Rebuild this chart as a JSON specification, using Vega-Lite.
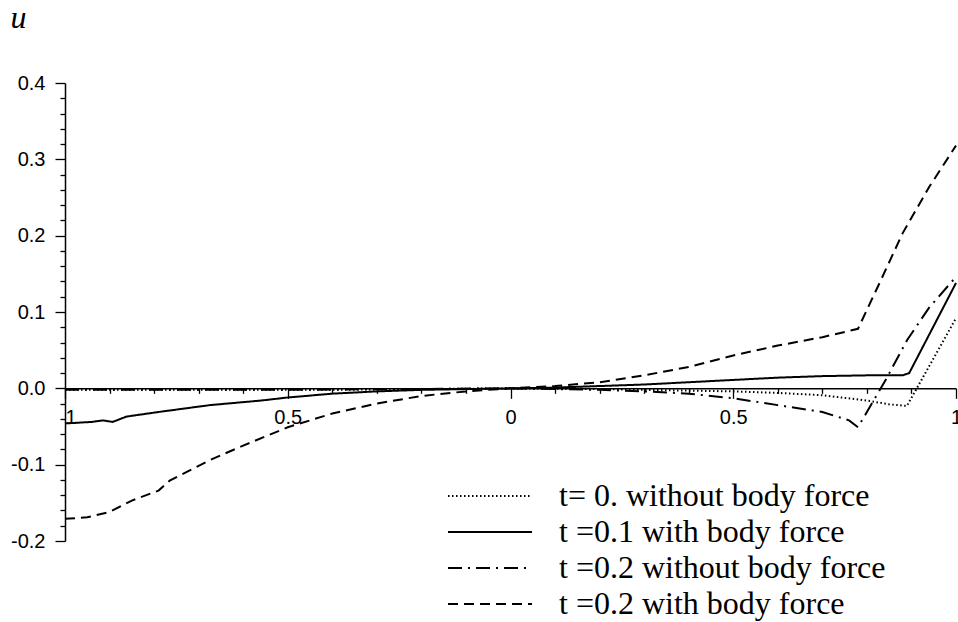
{
  "$schema": "https://vega.github.io/schema/vega-lite/v6.json",
  "width": 891,
  "height": 458,
  "autosize": {"type": "none"},
  "padding": {"left": 65, "top": 83, "right": 2, "bottom": 81},
  "background": "white",
  "config": {
    "view": {"stroke": null},
    "axis": {"grid": false, "domainColor": "black", "tickColor": "black", "labelColor": "black", "labelFont": "Liberation Sans", "labelFontSize": 20, "domainWidth": 1.5, "tickWidth": 1.3}
  },
  "data": {
    "values": [
      {"x": -1, "u": -0.002, "s": "t= 0. without body force"},
      {"x": -0.8, "u": -0.002, "s": "t= 0. without body force"},
      {"x": -0.6, "u": -0.002, "s": "t= 0. without body force"},
      {"x": -0.4, "u": -0.002, "s": "t= 0. without body force"},
      {"x": -0.2, "u": -0.001, "s": "t= 0. without body force"},
      {"x": 0, "u": 0, "s": "t= 0. without body force"},
      {"x": 0.2, "u": -0.001, "s": "t= 0. without body force"},
      {"x": 0.4, "u": -0.003, "s": "t= 0. without body force"},
      {"x": 0.5, "u": -0.004, "s": "t= 0. without body force"},
      {"x": 0.6, "u": -0.006, "s": "t= 0. without body force"},
      {"x": 0.7, "u": -0.009, "s": "t= 0. without body force"},
      {"x": 0.8, "u": -0.016, "s": "t= 0. without body force"},
      {"x": 0.85, "u": -0.021, "s": "t= 0. without body force"},
      {"x": 0.89, "u": -0.023, "s": "t= 0. without body force"},
      {"x": 1, "u": 0.092, "s": "t= 0. without body force"},

      {"x": -1, "u": -0.046, "s": "t =0.1 with body force"},
      {"x": -0.94, "u": -0.044, "s": "t =0.1 with body force"},
      {"x": -0.915, "u": -0.042, "s": "t =0.1 with body force"},
      {"x": -0.893, "u": -0.044, "s": "t =0.1 with body force"},
      {"x": -0.862, "u": -0.037, "s": "t =0.1 with body force"},
      {"x": -0.79, "u": -0.031, "s": "t =0.1 with body force"},
      {"x": -0.675, "u": -0.022, "s": "t =0.1 with body force"},
      {"x": -0.56, "u": -0.016, "s": "t =0.1 with body force"},
      {"x": -0.5, "u": -0.012, "s": "t =0.1 with body force"},
      {"x": -0.4, "u": -0.007, "s": "t =0.1 with body force"},
      {"x": -0.3, "u": -0.004, "s": "t =0.1 with body force"},
      {"x": -0.2, "u": -0.002, "s": "t =0.1 with body force"},
      {"x": -0.1, "u": -0.001, "s": "t =0.1 with body force"},
      {"x": 0, "u": 0, "s": "t =0.1 with body force"},
      {"x": 0.1, "u": 0.001, "s": "t =0.1 with body force"},
      {"x": 0.2, "u": 0.003, "s": "t =0.1 with body force"},
      {"x": 0.3, "u": 0.005, "s": "t =0.1 with body force"},
      {"x": 0.4, "u": 0.008, "s": "t =0.1 with body force"},
      {"x": 0.5, "u": 0.011, "s": "t =0.1 with body force"},
      {"x": 0.6, "u": 0.014, "s": "t =0.1 with body force"},
      {"x": 0.7, "u": 0.016, "s": "t =0.1 with body force"},
      {"x": 0.8, "u": 0.017, "s": "t =0.1 with body force"},
      {"x": 0.88, "u": 0.017, "s": "t =0.1 with body force"},
      {"x": 0.895, "u": 0.02, "s": "t =0.1 with body force"},
      {"x": 1, "u": 0.138, "s": "t =0.1 with body force"},

      {"x": -1, "u": -0.002, "s": "t =0.2 without body force"},
      {"x": -0.5, "u": -0.002, "s": "t =0.2 without body force"},
      {"x": 0, "u": 0, "s": "t =0.2 without body force"},
      {"x": 0.1, "u": -0.001, "s": "t =0.2 without body force"},
      {"x": 0.2, "u": -0.002, "s": "t =0.2 without body force"},
      {"x": 0.3, "u": -0.004, "s": "t =0.2 without body force"},
      {"x": 0.4, "u": -0.007, "s": "t =0.2 without body force"},
      {"x": 0.5, "u": -0.013, "s": "t =0.2 without body force"},
      {"x": 0.6, "u": -0.022, "s": "t =0.2 without body force"},
      {"x": 0.7, "u": -0.031, "s": "t =0.2 without body force"},
      {"x": 0.76, "u": -0.042, "s": "t =0.2 without body force"},
      {"x": 0.78, "u": -0.051, "s": "t =0.2 without body force"},
      {"x": 0.845, "u": 0.014, "s": "t =0.2 without body force"},
      {"x": 0.89, "u": 0.063, "s": "t =0.2 without body force"},
      {"x": 0.94, "u": 0.106, "s": "t =0.2 without body force"},
      {"x": 1, "u": 0.146, "s": "t =0.2 without body force"},

      {"x": -1, "u": -0.171, "s": "t =0.2 with body force"},
      {"x": -0.95, "u": -0.169, "s": "t =0.2 with body force"},
      {"x": -0.9, "u": -0.162, "s": "t =0.2 with body force"},
      {"x": -0.85, "u": -0.147, "s": "t =0.2 with body force"},
      {"x": -0.79, "u": -0.134, "s": "t =0.2 with body force"},
      {"x": -0.765, "u": -0.121, "s": "t =0.2 with body force"},
      {"x": -0.675, "u": -0.094, "s": "t =0.2 with body force"},
      {"x": -0.6, "u": -0.075, "s": "t =0.2 with body force"},
      {"x": -0.5, "u": -0.051, "s": "t =0.2 with body force"},
      {"x": -0.4, "u": -0.033, "s": "t =0.2 with body force"},
      {"x": -0.3, "u": -0.02, "s": "t =0.2 with body force"},
      {"x": -0.2, "u": -0.01, "s": "t =0.2 with body force"},
      {"x": -0.1, "u": -0.004, "s": "t =0.2 with body force"},
      {"x": 0, "u": 0, "s": "t =0.2 with body force"},
      {"x": 0.1, "u": 0.003, "s": "t =0.2 with body force"},
      {"x": 0.2, "u": 0.008, "s": "t =0.2 with body force"},
      {"x": 0.3, "u": 0.017, "s": "t =0.2 with body force"},
      {"x": 0.4, "u": 0.028, "s": "t =0.2 with body force"},
      {"x": 0.5, "u": 0.043, "s": "t =0.2 with body force"},
      {"x": 0.6, "u": 0.056, "s": "t =0.2 with body force"},
      {"x": 0.7, "u": 0.067, "s": "t =0.2 with body force"},
      {"x": 0.78, "u": 0.078, "s": "t =0.2 with body force"},
      {"x": 0.83, "u": 0.14, "s": "t =0.2 with body force"},
      {"x": 0.88, "u": 0.203, "s": "t =0.2 with body force"},
      {"x": 0.94, "u": 0.264, "s": "t =0.2 with body force"},
      {"x": 1, "u": 0.318, "s": "t =0.2 with body force"}
    ]
  },
  "layer": [
    {
      "mark": {"type": "point", "opacity": 0},
      "encoding": {
        "x": {"field": "x", "type": "quantitative", "scale": {"domain": [-1, 1], "nice": false, "zero": false},
          "axis": {"orient": "bottom", "offset": -152.67, "values": [-0.9, -0.8, -0.7, -0.6, -0.4, -0.3, -0.2, -0.1, 0.1, 0.2, 0.3, 0.4, 0.6, 0.7, 0.8, 0.9], "tickSize": 5, "labels": false, "domain": false, "title": null}},
        "y": {"field": "u", "type": "quantitative", "scale": {"domain": [-0.2, 0.4], "nice": false, "zero": false},
          "axis": {"orient": "left", "values": [-0.18, -0.16, -0.14, -0.12, -0.08, -0.06, -0.04, -0.02, 0.02, 0.04, 0.06, 0.08, 0.12, 0.14, 0.16, 0.18, 0.22, 0.24, 0.26, 0.28, 0.32, 0.34, 0.36, 0.38], "tickSize": 5, "labels": false, "domain": false, "title": null}}
      }
    },
    {
      "mark": {"type": "line", "strokeWidth": 2, "color": "black"},
      "encoding": {
        "x": {"field": "x", "type": "quantitative", "scale": {"domain": [-1, 1], "nice": false, "zero": false},
          "axis": {"orient": "bottom", "offset": -152.67, "values": [-1, -0.5, 0, 0.5, 1], "tickSize": 10, "labelPadding": 9, "title": null,
            "labelExpr": "datum.value == 0 ? '0' : format(abs(datum.value), '~g')",
            "labelAlign": {"condition": {"test": "datum.value == -1", "value": "left"}, "value": "center"}}},
        "y": {"field": "u", "type": "quantitative", "scale": {"domain": [-0.2, 0.4], "nice": false, "zero": false},
          "axis": {"orient": "left", "values": [-0.2, -0.1, 0, 0.1, 0.2, 0.3, 0.4], "tickSize": 10, "labelPadding": 10,
            "labelExpr": "replace(format(datum.value, '.1f'), '\u2212', '-')",
            "title": "u", "titleAngle": 0, "titleFont": "Liberation Serif", "titleFontStyle": "italic", "titleFontWeight": "normal", "titleFontSize": 32, "titleColor": "black",
            "titleX": -55, "titleY": -56, "titleAlign": "left", "titleBaseline": "alphabetic"}},
        "strokeDash": {"field": "s", "type": "nominal",
          "scale": {"domain": ["t= 0. without body force", "t =0.1 with body force", "t =0.2 without body force", "t =0.2 with body force"],
            "range": [[1.5, 2.5], [1, 0], [14, 6, 2, 6], [10, 6]]},
          "legend": {"orient": "none", "legendX": 409, "legendY": 397, "title": null, "symbolType": "M-2.8,0H2.8", "symbolSize": 900,
            "symbolStrokeWidth": 2, "symbolStrokeColor": "black", "labelFont": "Liberation Serif", "labelFontSize": 32, "labelColor": "black",
            "labelOffset": 53, "rowPadding": 4, "padding": 0, "labelLimit": 0}},
        "order": {"field": "x", "type": "quantitative"}
      }
    }
  ],
  "resolve": {"axis": {"x": "independent", "y": "independent"}}
}
